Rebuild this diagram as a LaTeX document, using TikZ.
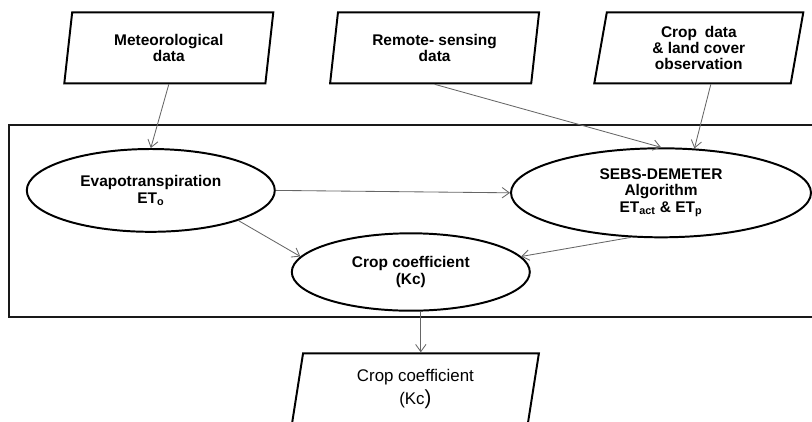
\documentclass[tikz,border=0pt]{standalone}
\usepackage{fontspec}
\setmainfont{Liberation Sans}
\usetikzlibrary{shapes.geometric,arrows.meta}

\tikzset{
    >={Straight Barb[length=1.8mm,width=2.6mm]},
    databox/.style={trapezium, trapezium left angle=74, trapezium right angle=106,
        trapezium stretches body, draw, line width=1.4pt, inner sep=0pt,
        minimum width=5.225cm, minimum height=1.775cm, align=center,
        font=\fontsize{11}{11.5}\selectfont\bfseries},
    procbox/.style={ellipse, draw, line width=1.4pt, inner sep=0pt, align=center,
        font=\fontsize{11}{11.5}\selectfont\bfseries},
    flow/.style={->, draw=black!60, line width=0.6pt}
}

\begin{document}
\begin{tikzpicture}
    \useasboundingbox (0,0) rectangle (20.3,-10.525);
    \clip (0,0) rectangle (20.3,-10.525);
    % model frame
    \draw[line width=1.4pt, black!90] (0.23,-3.125) rectangle (20.8,-7.92);
    % inputs
    \node[databox] (met) at (4.22,-1.195) {Meteorological\\data};
    \node[databox] (rs) at (10.865,-1.195) {Remote- sensing\\data};
    \node[databox] (crop) at (17.47,-1.195) {Crop\enspace data\\\& land cover\\observation};
    % processing
    \node[procbox, minimum width=6.2cm, minimum height=2.07cm] (evap) at (3.77,-4.76)
        {Evapotranspiration\\[1pt]ET\textsubscript{o}};
    \node[procbox, minimum width=7.5cm, minimum height=2.225cm] (sebs) at (16.525,-4.82)
        {SEBS-DEMETER\\Algorithm\\ET\textsubscript{act} \& ET\textsubscript{p}};
    \node[procbox, minimum width=5.95cm, minimum height=1.935cm] (kc) at (10.27,-6.8)
        {Crop coefficient\\[1pt](Kc)};
    % output
    \node[databox, minimum width=6.175cm, font=\fontsize{12}{16}\selectfont] (out) at (10.385,-9.72)
        {Crop coefficient\\(Kc{\fontsize{14.5}{14}\selectfont)}};
    % connectors
    \draw[flow] (met.south) -- (evap.north);
    \draw[flow] (rs.south) -- (sebs.north);
    \draw[flow] ([xshift=.3cm]crop.south) -- (sebs.53);
    \draw[flow] (evap.east) -- (sebs.west);
    \draw[flow] (evap.-19) -- (kc.172);
    \draw[flow] (sebs.236) -- (kc.8);
    \draw[flow] ([xshift=.25cm]kc.south) -- ([xshift=.25cm]kc.south |- out.north);
\end{tikzpicture}
\end{document}
